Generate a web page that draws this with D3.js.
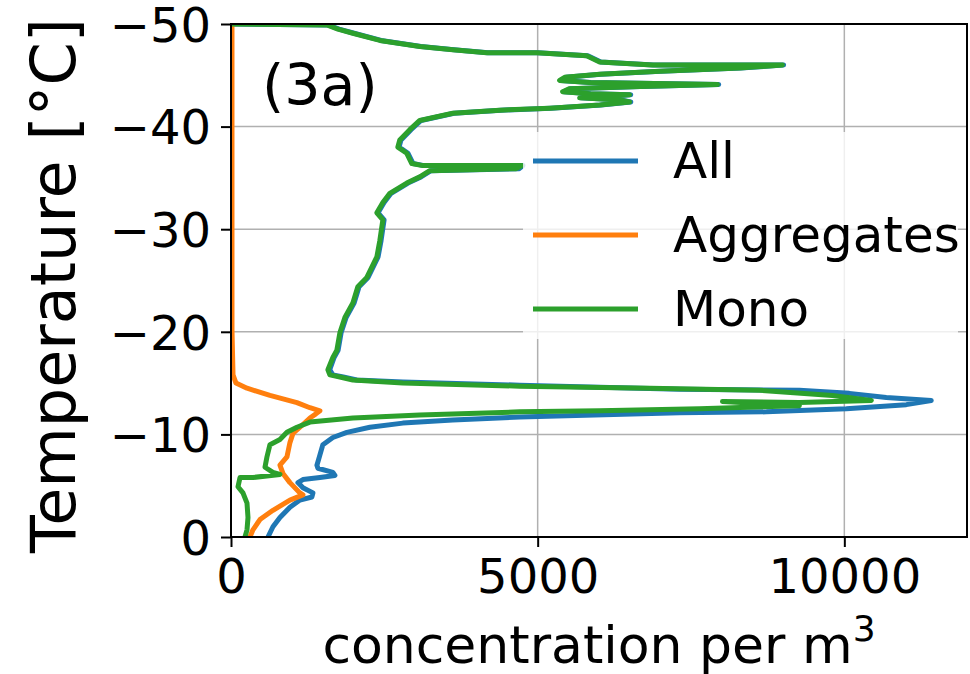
<!DOCTYPE html>
<html>
<head>
<meta charset="utf-8">
<script src="https://cdn.jsdelivr.net/npm/d3@7"></script>
<style>
  html, body { margin: 0; padding: 0; background: #ffffff; }
  svg { display: block; }
  text { font-family: "DejaVu Sans", sans-serif; fill: #000; }
</style>
</head>
<body>
<svg id="chart" width="970" height="674"></svg>
<script>
// ---------------- data ----------------
const seriesNames = ["All", "Aggregates", "Mono"];
const seriesColors = ["#1f77b4", "#ff7f0e", "#2ca02c"];
const xTicks = [0, 5000, 10000];
const yTicks = [0, -10, -20, -30, -40, -50];
const panelLabel = "(3a)";
const xLabel = "concentration per m";
const yLabel = "Temperature [°C]";

// Mono: [concentration, temperature]
const monoData = [
  [0,-50.0],[1563,-49.9],[1743,-49.5],[1987,-49.1],[2427,-48.4],[3078,-47.8],[3616,-47.5],[4169,-47.2],
  [4984,-47.2],[5798,-46.9],[6010,-46.3],[6873,-46.0],[8990,-46.0],[8290,-45.7],[6987,-45.4],[6010,-45.1],
  [5440,-44.8],[5358,-44.5],[5847,-44.3],[7932,-44.1],[6661,-43.9],[5521,-43.7],[5407,-43.4],[5847,-43.2],
  [6498,-43.1],[6010,-42.9],[5684,-42.8],[6336,-42.6],[6498,-42.4],[6010,-42.1],[5195,-41.8],[4381,-41.6],
  [3616,-41.3],[3078,-40.6],[2915,-39.7],[2752,-38.7],[2720,-38.0],[2866,-37.4],[2948,-36.4],[3127,-36.2],
  [4740,-36.2],[4650,-35.9],[3241,-35.7],[3078,-35.1],[2866,-34.5],[2590,-33.5],[2476,-32.6],[2378,-31.6],
  [2476,-30.9],[2427,-28.9],[2378,-27.3],[2215,-25.3],[2068,-24.4],[1987,-22.8],[1857,-21.4],[1775,-19.9],
  [1726,-18.2],[1661,-17.5],[1580,-16.3],[1612,-15.8],[1775,-15.6],[1987,-15.3],[2801,-15.0],[4707,-14.7],
  [6824,-14.5],[8616,-14.3],[9805,-13.8],[10440,-13.3],[9267,-13.1],[8013,-13.2],[9267,-12.8],[7638,-12.5],
  [6010,-12.3],[4707,-12.2],[3078,-11.9],[1987,-11.6],[1287,-11.2],[1075,-10.7],[912,-10.2],[798,-9.5],
  [635,-9.0],[586,-7.8],[554,-6.8],[684,-6.3],[798,-6.1],[358,-5.8],[147,-5.8],[114,-4.9],
  [195,-4.3],[261,-3.3],[277,-1.9],[261,-0.7],[228,0]
];

// Aggregates: [concentration, temperature]
const aggData = [
  [16,-50],[16,-32.8],[16,-20.2],[33,-15.8],[81,-15.0],[261,-14.5],[635,-13.8],[1075,-13.1],
  [1287,-12.6],[1450,-12.3],[1384,-12.0],[1287,-11.6],[1124,-10.7],[1010,-10.1],[961,-9.2],[912,-7.8],
  [798,-7.0],[847,-6.2],[961,-5.3],[1124,-4.3],[1173,-4.1],[961,-3.6],[684,-2.6],[472,-1.7],
  [358,-0.7],[309,0]
];

// All: [concentration, temperature]
const allData = [
  [20,-50],[1583,-49.9],[1763,-49.5],[2007,-49.1],[2447,-48.4],[3098,-47.8],[3636,-47.5],[4189,-47.2],
  [5004,-47.2],[5818,-46.9],[6030,-46.3],[6893,-46.0],[9010,-46.0],[8310,-45.7],[7007,-45.4],[6030,-45.1],
  [5460,-44.8],[5378,-44.5],[5867,-44.3],[7952,-44.1],[6681,-43.9],[5541,-43.7],[5427,-43.4],[5867,-43.2],
  [6518,-43.1],[6030,-42.9],[5704,-42.8],[6356,-42.6],[6518,-42.4],[6030,-42.1],[5215,-41.8],[4401,-41.6],
  [3636,-41.3],[3098,-40.6],[2935,-39.7],[2772,-38.7],[2740,-38.0],[2886,-37.4],[2968,-36.4],[3147,-36.2],
  [4760,-36.2],[4700,-35.9],[3261,-35.7],[3098,-35.1],[2886,-34.5],[2610,-33.5],[2496,-32.6],[2398,-31.6],
  [2496,-30.9],[2447,-28.9],[2398,-27.3],[2235,-25.3],[2088,-24.4],[2007,-22.8],[1877,-21.4],[1795,-19.9],
  [1746,-18.2],[1681,-17.5],[1610,-16.3],[1660,-15.8],[1830,-15.6],[2050,-15.3],
  [2801,-15.1],[4707,-14.8],[7313,-14.4],[9267,-14.3],[10081,-14.0],[10684,-13.6],[11417,-13.3],[11010,-12.9],
  [10033,-12.5],[8730,-12.2],[7313,-12.1],[4707,-11.7],[3616,-11.4],[2801,-11.1],[2264,-10.7],[1889,-10.2],
  [1661,-9.7],[1498,-9.0],[1450,-8.0],[1401,-7.0],[1417,-6.7],[1661,-6.3],[1694,-6.0],[1450,-5.8],
  [1173,-5.6],[1091,-5.3],[1173,-4.8],[1336,-4.3],[1319,-3.9],[1124,-3.6],[961,-2.9],[798,-1.9],
  [684,-1.0],[603,0]
];

const seriesData = [allData, aggData, monoData];

// ---------------- layout ----------------
const svg = d3.select("#chart");
const mLeft = 231, mRight = 967, mTop = 24, mBottom = 537;

const x = d3.scaleLinear().domain([0, 12000]).range([mLeft, mRight]);
const y = d3.scaleLinear().domain([0, -50]).range([mBottom, mTop]);

// grid
const grid = svg.append("g");
grid.selectAll(".gx").data(xTicks).enter().append("line")
  .attr("x1", d => x(d)).attr("x2", d => x(d)).attr("y1", mTop).attr("y2", mBottom)
  .attr("stroke", "#b0b0b0").attr("stroke-width", 1.5);
grid.selectAll(".gy").data(yTicks).enter().append("line")
  .attr("x1", mLeft).attr("x2", mRight).attr("y1", d => y(d)).attr("y2", d => y(d))
  .attr("stroke", "#b0b0b0").attr("stroke-width", 1.5);

// clip
svg.append("defs").append("clipPath").attr("id", "plotclip")
  .append("rect").attr("x", mLeft).attr("y", mTop).attr("width", mRight - mLeft).attr("height", mBottom - mTop);

const line = d3.line().x(d => x(d[0])).y(d => y(d[1]));
const lines = svg.append("g").attr("clip-path", "url(#plotclip)");
seriesData.forEach((data, i) => {
  lines.append("path").datum(data)
    .attr("d", line)
    .attr("fill", "none")
    .attr("stroke", seriesColors[i])
    .attr("stroke-width", 5)
    .attr("stroke-linejoin", "round")
    .attr("stroke-linecap", "round");
});

// axes
const fmt = d => (d < 0 ? "\u2212" + Math.abs(d) : String(d));
const xAxis = d3.axisBottom(x).tickValues(xTicks).tickFormat(fmt).tickSize(10).tickPadding(12);
const yAxis = d3.axisLeft(y).tickValues(yTicks).tickFormat(fmt).tickSize(10).tickPadding(10);

const gx = svg.append("g").attr("transform", `translate(0,${mBottom})`).call(xAxis);
const gy = svg.append("g").attr("transform", `translate(${mLeft},0)`).call(yAxis);
[gx, gy].forEach(g => {
  g.select(".domain").remove();
  g.selectAll(".tick line").attr("stroke", "#000").attr("stroke-width", 2);
  g.selectAll(".tick text").attr("font-size", 48).attr("font-family", "DejaVu Sans").attr("fill", "#000");
});
gx.selectAll(".tick text").attr("dy", "0.71em");
gy.selectAll(".tick text").attr("dy", "0.36em");

// frame
svg.append("rect").attr("x", mLeft).attr("y", mTop).attr("width", mRight - mLeft).attr("height", mBottom - mTop)
  .attr("fill", "none").attr("stroke", "#000").attr("stroke-width", 2);

// panel label
svg.append("text").attr("x", 262).attr("y", 105).attr("font-size", 57).text(panelLabel);

// axis labels
const xl = svg.append("text").attr("x", (mLeft + mRight) / 2).attr("y", 663)
  .attr("text-anchor", "middle").attr("font-size", 52);
xl.append("tspan").text(xLabel);
xl.append("tspan").attr("dy", -22).attr("font-size", 36).text("3");

svg.append("text").attr("transform", `translate(75,${(mTop + mBottom) / 2 + 5}) rotate(-90)`)
  .attr("text-anchor", "middle").attr("font-size", 62).text(yLabel);

// legend
const lg = svg.append("g");
lg.append("rect").attr("x", 523).attr("y", 132).attr("width", 435).attr("height", 207)
  .attr("fill", "#ffffff").attr("fill-opacity", 0.8);
const legendY = [161, 235, 309];
seriesNames.forEach((name, i) => {
  lg.append("line").attr("x1", 533).attr("x2", 638).attr("y1", legendY[i]).attr("y2", legendY[i])
    .attr("stroke", seriesColors[i]).attr("stroke-width", 5);
  lg.append("text").attr("x", 673).attr("y", legendY[i] + 17).attr("font-size", 50).text(name);
});
</script>
</body>
</html>
